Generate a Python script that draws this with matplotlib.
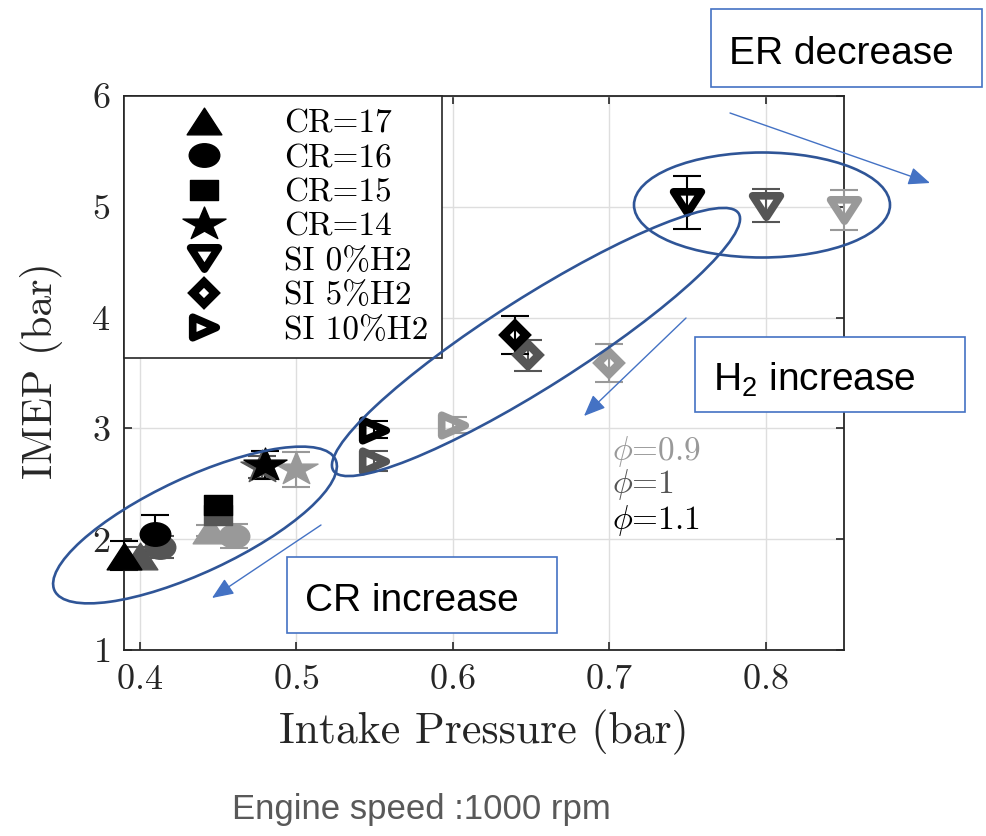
import matplotlib
matplotlib.use('Agg')
import matplotlib.pyplot as plt
import numpy as np
from matplotlib.markers import MarkerStyle
from matplotlib.transforms import Affine2D
from matplotlib.lines import Line2D
from matplotlib.patches import Ellipse, Rectangle
from matplotlib import font_manager as fm

plt.rcParams['font.family'] = ['cmr10']
plt.rcParams['mathtext.fontset'] = 'cm'
plt.rcParams['axes.unicode_minus'] = False
plt.rcParams['axes.formatter.use_mathtext'] = True

# series labels (one marker per configuration)
labels = ['CR=17', 'CR=16', 'CR=15', 'CR=14', 'SI 0%H2', 'SI 5%H2', 'SI 10%H2']
phi_labels = [r'$\phi$=0.9', r'$\phi$=1', r'$\phi$=1.1']

# intake pressure (bar), IMEP (bar) and error for each equivalence ratio
p_09 = [0.445, 0.46, np.nan, 0.50, 0.85, 0.70, 0.60]
imep_09 = [2.08, 2.03, np.nan, 2.63, 4.97, 3.59, 3.03]
err_09 = [0.05, 0.11, np.nan, 0.16, 0.18, 0.17, 0.07]

p_10 = [0.40, 0.413, 0.45, 0.478, 0.80, 0.648, 0.55]
imep_10 = [1.85, 1.93, 2.22, 2.65, 5.01, 3.66, 2.71]
err_10 = [0.08, 0.10, 0.06, 0.10, 0.15, 0.14, 0.09]

p_11 = [0.39, 0.41, 0.45, 0.48, 0.75, 0.64, 0.55]
imep_11 = [1.85, 2.05, 2.31, 2.67, 5.04, 3.84, 2.99]
err_11 = [0.13, 0.17, 0.07, 0.13, 0.24, 0.17, 0.08]

grey_light = '#999999'
grey_dark = '#555555'
blue_line = '#2F5597'
blue_arrow = '#4472C4'


def wide(m, sx=1.3):
    # original figure was stretched sideways, so markers are wider than tall
    st = MarkerStyle(m)
    p = st.get_path().transformed(st.get_transform())
    p = p.transformed(Affine2D().scale(sx, 1.0))
    return MarkerStyle(p, joinstyle='miter')


# marker, size, edge width, filled
mstyles = [
    (wide('^'), 25, 1.0, True),
    (wide('o'), 22, 1.0, True),
    (wide('s'), 19.5, 1.0, True),
    (wide('*'), 31, 1.0, True),
    (wide('v'), 20, 5.5, False),
    (MarkerStyle('D', joinstyle='miter'), 11, 6.0, False),
    (wide('>', 1.15), 17, 5.5, False),
]

fig = plt.figure(figsize=(9.87, 8.36), dpi=100)
ax = fig.add_axes([124 / 987, 186 / 836, 720 / 987, 554 / 836])

groups = [(p_09, imep_09, err_09, grey_light),
          (p_10, imep_10, err_10, grey_dark),
          (p_11, imep_11, err_11, 'black')]

for px, py, pe, col in groups:
    for i, (mk, ms, mew, filled) in enumerate(mstyles):
        if np.isnan(px[i]):
            continue
        ax.errorbar([px[i]], [py[i]], yerr=[pe[i]], fmt='none', ecolor=col,
                    elinewidth=1.5, capsize=10, capthick=1.5, clip_on=False, zorder=3)
        ax.plot([px[i]], [py[i]], ls='none', marker=mk, ms=ms, mew=mew,
                color=col, mec=col, mfc=col if filled else 'none',
                clip_on=False, zorder=4)

ax.set_xlim(0.39, 0.85)
ax.set_ylim(1, 6)
ax.set_xticks([0.4, 0.5, 0.6, 0.7, 0.8])
ax.set_yticks([1, 2, 3, 4, 5, 6])
ax.grid(True, color='#dedede', lw=1)
ax.set_axisbelow(True)
ax.tick_params(direction='in', top=True, right=True, length=6, width=1.2,
               labelsize=26, pad=10, colors='#262626')
for s in ax.spines.values():
    s.set_color('#262626')
    s.set_linewidth(1.3)

ax.set_xlabel('Intake Pressure (bar)', fontsize=31.5, color='#262626')
ax.xaxis.label.set_va('center')
ax.xaxis.set_label_coords(0.5, -0.148)
ax.set_ylabel('IMEP (bar)', fontsize=30, color='#262626')
ax.yaxis.label.set_va('center')
ax.yaxis.set_label_coords(-0.115, 0.505)

# equivalence ratio key
for lab, col, yy in zip(phi_labels, [grey_light, grey_dark, 'black'], [2.79, 2.49, 2.17]):
    ax.text(0.702, yy, lab, fontsize=24, color=col, va='center', ha='left')

handles = [Line2D([], [], ls='none', marker=mk, ms=ms, mew=mew, color='black',
                  mfc='black' if filled else 'none')
           for mk, ms, mew, filled in mstyles]
leg = ax.legend(handles, labels, loc='upper left', borderaxespad=0, fontsize=24,
                fancybox=False, edgecolor='#262626', framealpha=1,
                handlelength=4.0, handletextpad=0.4, borderpad=0.4,
                labelspacing=0.15, numpoints=1)
leg.get_frame().set_linewidth(1.2)
leg.set_zorder(6)

# annotation layer in pixel coordinates
names = {f.name for f in fm.fontManager.ttflist}
if 'Liberation Sans Narrow' in names:
    box_font, box_size, note_size = 'Liberation Sans Narrow', 33, 30
else:
    box_font, box_size, note_size = 'Liberation Sans', 28, 25

ov = fig.add_axes([0, 0, 1, 1], zorder=10)
ov.set_xlim(0, 987)
ov.set_ylim(836, 0)
ov.axis('off')

for (cx, cy, w, h, ang) in [(195, 525, 310, 95, -25),
                            (536, 342, 480, 90, -32.4),
                            (762, 205, 256, 105, 0)]:
    ov.add_patch(Ellipse((cx, cy), w, h, angle=ang, fill=False,
                         ec=blue_line, lw=1.9))

for start, tip in [((730, 113), (930, 183)),
                   ((686, 318), (584, 416)),
                   ((321, 525), (212, 598))]:
    ov.annotate('', xy=tip, xytext=start,
                arrowprops=dict(arrowstyle='-|>,head_length=0.6,head_width=0.25',
                                color=blue_arrow, lw=1.0, mutation_scale=22,
                                shrinkA=0, shrinkB=0))

for (x0, y0, x1, y1, txt) in [(711, 9, 982, 87, 'ER decrease'),
                              (695, 337, 965, 412, r'H$\mathregular{_2}$ increase'),
                              (287, 557, 557, 633, 'CR increase')]:
    ov.add_patch(Rectangle((x0, y0), x1 - x0, y1 - y0, fc='white',
                           ec=blue_arrow, lw=1.2))
    ov.text(x0 + 18, (y0 + y1) / 2 + 16, txt, family=box_font, fontsize=box_size,
            color='black', ha='left', va='baseline')

fig.text(421 / 987, 1 - 810 / 836, 'Engine speed :1000 rpm', family=box_font,
         fontsize=note_size, color='#595959', ha='center', va='center')

fig.savefig('out.png', dpi=100)
